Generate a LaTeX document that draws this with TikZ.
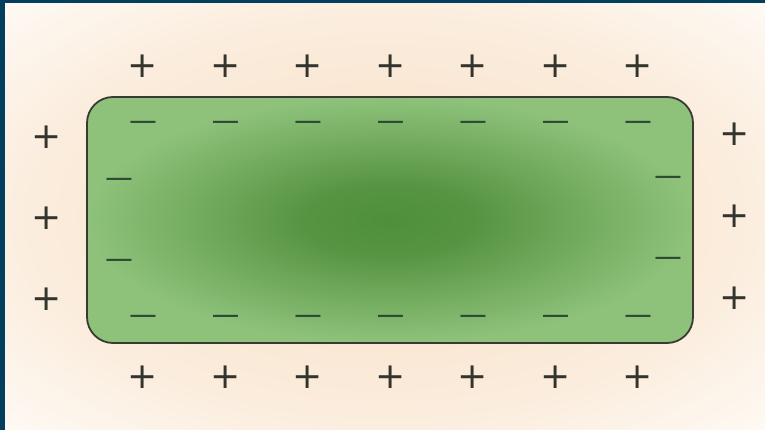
\documentclass[tikz,border=0pt]{standalone}
\usepackage{fontspec}
\newfontfamily\signfont{DejaVu Sans}
\usepackage{xcolor}
\definecolor{frameblue}{HTML}{023E5E}
\definecolor{paperlight}{HTML}{FEFAF5}
\definecolor{paperpeach}{HTML}{F8E0C6}
\definecolor{leafdark}{HTML}{4F8E3A}
\definecolor{leaflight}{HTML}{8EC27B}
\definecolor{rimgray}{HTML}{3A3A33}
\definecolor{plusink}{HTML}{34342E}
\definecolor{minusink}{HTML}{2F4A33}
\pgfdeclareradialshading{paperglow}{\pgfpoint{0bp}{0bp}}{color(0bp)=(paperpeach); color(22bp)=(paperpeach!55!paperlight); color(36bp)=(paperlight); color(50bp)=(paperlight)}
\pgfdeclareradialshading{leafglow}{\pgfpoint{0bp}{0bp}}{color(0bp)=(leafdark); color(7bp)=(leafdark!88!leaflight); color(25bp)=(leaflight); color(50bp)=(leaflight)}

\begin{document}
\begin{tikzpicture}[x=1pt,y=-1pt,line cap=round,
  poscharge/.style={font=\signfont\fontsize{36}{36}\selectfont,text=plusink,inner sep=0pt,text height=23pt,text depth=0pt},
  negcharge/.style={font=\signfont\fontsize{38}{38}\selectfont,text=minusink,inner sep=0pt,text height=24.4pt,text depth=0pt,xscale=1.05,yscale=0.68,transform shape}]
\useasboundingbox (0,0) rectangle (765,430);
\fill[frameblue] (0,0) rectangle (765,430);
\shade[shading=paperglow] (5,4) rectangle (765,430);
\shadedraw[shading=leafglow,draw=rimgray,line width=1.8pt,rounded corners=26pt] (87,97) rectangle (693,343);
% positive charges outside
\node[poscharge] (pt1) at (143,66) {+};
\node[poscharge] (pt2) at (225.5,66) {+};
\node[poscharge] (pt3) at (308,66) {+};
\node[poscharge] (pt4) at (390.5,66) {+};
\node[poscharge] (pt5) at (473,66) {+};
\node[poscharge] (pt6) at (555.5,66) {+};
\node[poscharge] (pt7) at (638,66) {+};
\node[poscharge] (pb1) at (143,377) {+};
\node[poscharge] (pb2) at (225.5,377) {+};
\node[poscharge] (pb3) at (308,377) {+};
\node[poscharge] (pb4) at (390.5,377) {+};
\node[poscharge] (pb5) at (473,377) {+};
\node[poscharge] (pb6) at (555.5,377) {+};
\node[poscharge] (pb7) at (638,377) {+};
\node[poscharge] (pl1) at (47,137) {+};
\node[poscharge] (pl2) at (47,218) {+};
\node[poscharge] (pl3) at (47,299) {+};
\node[poscharge] (pr1) at (735,134) {+};
\node[poscharge] (pr2) at (735,216) {+};
\node[poscharge] (pr3) at (735,298) {+};
% negative charges inside
\node[negcharge] (mt1) at (143,122) {−};
\node[negcharge] (mt2) at (225.5,122) {−};
\node[negcharge] (mt3) at (308,122) {−};
\node[negcharge] (mt4) at (390.5,122) {−};
\node[negcharge] (mt5) at (473,122) {−};
\node[negcharge] (mt6) at (555.5,122) {−};
\node[negcharge] (mt7) at (638,122) {−};
\node[negcharge] (mb1) at (143,316) {−};
\node[negcharge] (mb2) at (225.5,316) {−};
\node[negcharge] (mb3) at (308,316) {−};
\node[negcharge] (mb4) at (390.5,316) {−};
\node[negcharge] (mb5) at (473,316) {−};
\node[negcharge] (mb6) at (555.5,316) {−};
\node[negcharge] (mb7) at (638,316) {−};
\node[negcharge] (ml1) at (119,179) {−};
\node[negcharge] (ml2) at (119,260) {−};
\node[negcharge] (mr1) at (668,177) {−};
\node[negcharge] (mr2) at (668,258) {−};
\end{tikzpicture}
\end{document}
